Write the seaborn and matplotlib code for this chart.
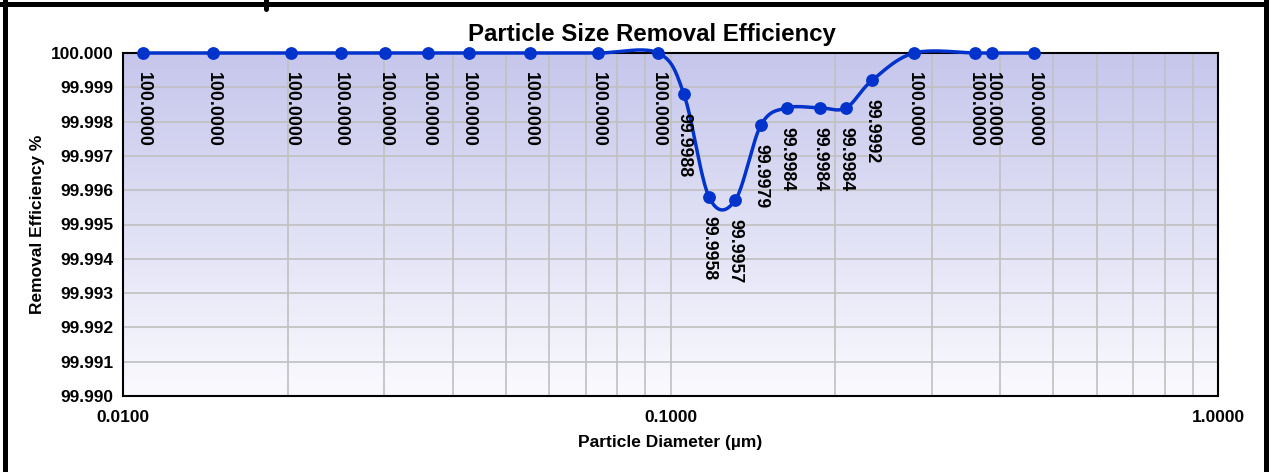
import numpy as np
import matplotlib
matplotlib.use("Agg")
import matplotlib.pyplot as plt
import matplotlib.ticker as mticker
from matplotlib.lines import Line2D
import pandas as pd
import seaborn as sns

# values
diameter = [0.0109, 0.0146, 0.0203, 0.0250, 0.0301, 0.0361, 0.0428, 0.0554, 0.0737, 0.0949,
            0.1058, 0.1176, 0.1312, 0.1463, 0.1632, 0.1876, 0.2092, 0.2334, 0.2785,
            0.3599, 0.3866, 0.4612]
efficiency = [100.0, 100.0, 100.0, 100.0, 100.0, 100.0, 100.0, 100.0, 100.0, 100.0,
              99.9988, 99.9958, 99.9957, 99.9979, 99.9984, 99.9984, 99.9984, 99.9992, 100.0,
              100.0, 100.0, 100.0]
x_ticks = [0.01, 0.1, 1.0]
y_ticks = [99.990, 99.991, 99.992, 99.993, 99.994, 99.995, 99.996, 99.997, 99.998, 99.999, 100.000]

df = pd.DataFrame({"diameter": diameter, "efficiency": efficiency})

W, H = 1269, 472
blue = "#0033CC"


def smooth(xs, ys, kx=547.5, ky=34300.0, n=24):
    # excel-like smoothed line (catmull-rom as bezier), done in screen-ish units
    u = np.log10(np.asarray(xs)) * kx
    v = np.asarray(ys) * ky
    P = np.column_stack([u, v])
    P = np.vstack([P[0], P, P[-1]])
    out = []
    t = np.linspace(0, 1, n)[:, None]
    for i in range(1, len(P) - 2):
        p0, p1, p2, p3 = P[i - 1], P[i], P[i + 1], P[i + 2]
        c1 = p1 + (p2 - p0) / 6.0
        c2 = p2 - (p3 - p1) / 6.0
        seg = (1 - t) ** 3 * p1 + 3 * (1 - t) ** 2 * t * c1 + 3 * (1 - t) * t ** 2 * c2 + t ** 3 * p2
        out.append(seg if i == 1 else seg[1:])
    out = np.vstack(out)
    return 10 ** (out[:, 0] / kx), out[:, 1] / ky


sns.set_style("white")
plt.rcParams["font.family"] = ["Liberation Sans", "DejaVu Sans"]
plt.rcParams["font.weight"] = "bold"
for k in ["text.color", "axes.labelcolor", "xtick.color", "ytick.color"]:
    plt.rcParams[k] = "black"

fig = plt.figure(figsize=(W / 100, H / 100), dpi=100)
ax = fig.add_axes([123 / W, 1 - 396 / H, (1218 - 123) / W, (396 - 53) / H])

# gradient plot area
grad = np.linspace(0, 1, 256)[:, None]
cmap = matplotlib.colors.LinearSegmentedColormap.from_list("bg", ["#C6C6EC", "#FAFAFE"])
ax.imshow(grad, extent=[0, 1, 0, 1], transform=ax.transAxes, cmap=cmap,
          aspect="auto", zorder=0, origin="upper")

ax.set_xscale("log")
ax.set_xlim(0.01, 1.0)
ax.set_ylim(99.990, 100.000)

ax.xaxis.set_major_locator(mticker.FixedLocator(x_ticks))
ax.xaxis.set_minor_locator(mticker.LogLocator(base=10, subs=np.arange(2, 10)))
ax.xaxis.set_minor_formatter(mticker.NullFormatter())
ax.set_xticklabels([f"{t:.4f}" for t in x_ticks])
ax.set_yticks(y_ticks)
ax.set_yticklabels([f"{t:.3f}" for t in y_ticks])

ax.grid(True, which="both", axis="x", color="#C0C0C0", lw=1.2, zorder=1)
ax.grid(True, which="major", axis="y", color="#C0C0C0", lw=1.2, zorder=1)
ax.set_axisbelow(True)

sx, sy = smooth(diameter, efficiency)
sns.lineplot(x=sx, y=sy, sort=False, color=blue, lw=2.5, ax=ax, zorder=4, clip_on=False)
sns.scatterplot(data=df, x="diameter", y="efficiency", color=blue, s=85,
                edgecolor=blue, linewidth=0, ax=ax, zorder=5, clip_on=False)

for d, e in zip(diameter, efficiency):
    ax.annotate(f"{e:.4f}", (d, e), xytext=(0, -13.5), textcoords="offset points",
                rotation=270, ha="center", va="top", fontsize=12.8, fontweight="bold",
                color="black", zorder=6)

for s in ax.spines.values():
    s.set_color("black")
    s.set_linewidth(1.5)
ax.tick_params(axis="both", which="major", direction="out", length=4, width=1.2,
               labelsize=12.5, colors="black", pad=3)
ax.tick_params(axis="x", which="minor", length=0)
ax.tick_params(axis="x", which="major", pad=6)
for lab in ax.get_xticklabels() + ax.get_yticklabels():
    lab.set_fontweight("bold")

ax.set_xlabel("Particle Diameter (µm)", fontsize=12.5, fontweight="bold", labelpad=7)
ax.set_ylabel("Removal Efficiency %", fontsize=12.5, fontweight="bold", labelpad=4)

fig.text(652 / W, 1 - 34 / H, "Particle Size Removal Efficiency", ha="center", va="center",
         fontsize=17.3, fontweight="bold")

# outer frame: top, left, right (no bottom edge)
for xs_, ys_ in [([0, 1], [1 - 4 / H, 1 - 4 / H]),
                 ([5 / W, 5 / W], [0, 1]),
                 ([1 - 3.5 / W, 1 - 3.5 / W], [0, 1]),
                 ([266 / W, 266 / W], [1, 1 - 9 / H])]:
    fig.add_artist(Line2D(xs_, ys_, transform=fig.transFigure, color="black", lw=3.6))

fig.savefig("out.png", dpi=100)
